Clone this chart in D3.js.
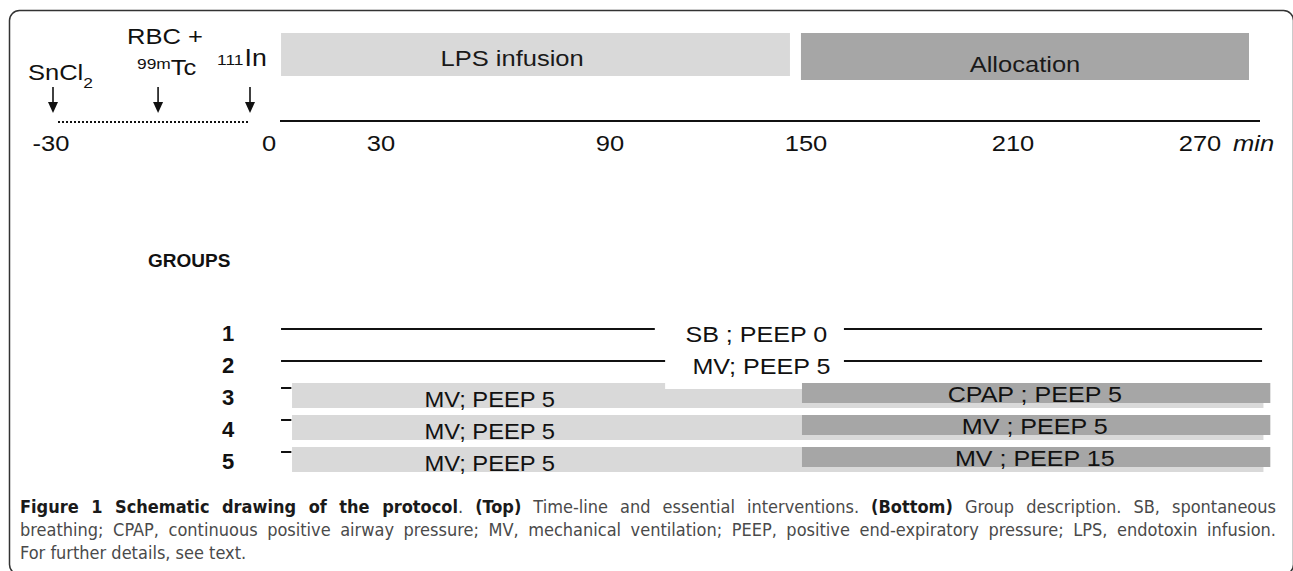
<!DOCTYPE html>
<html>
<head>
<meta charset="utf-8">
<script src="https://cdn.jsdelivr.net/npm/d3@7"></script>
<style>
  body { margin: 0; background: #fff; }
  svg text { font-family: Arial, "Liberation Sans", sans-serif; }
</style>
</head>
<body>
<div id="chart"></div>
<script>
// time-line data (minutes)
const timeTicks = [-30, 0, 30, 90, 150, 210, 270];
const eventNames = ['SnCl2', 'RBC + 99mTc', '111In'];
const eventTimes = [-30, -14, 0];
const phaseNames = ['LPS infusion', 'Allocation'];
const phaseStart = [0.3, 151.5];
const phaseEnd = [148.3, 281.8];

// groups
const groupIds = ['1', '2', '3', '4', '5'];
const preLabels = ['', '', 'MV; PEEP 5', 'MV; PEEP 5', 'MV; PEEP 5'];
const allocLabels = ['SB ; PEEP 0', 'MV; PEEP 5', 'CPAP ; PEEP 5', 'MV ; PEEP 5', 'MV ; PEEP 15'];
const gapStart = [109, 112];   // minutes where label interrupts the line (groups 1-2)
const gapEnd = [164, 164];
const preLabelAt = 61;

const captionLines = [
  [['Figure 1 Schematic drawing of the protocol', true], ['. ', false], ['(Top)', true],
   [' Time-line and essential interventions. ', false], ['(Bottom)', true],
   [' Group description. SB, spontaneous', false]],
  [['breathing; CPAP, continuous positive airway pressure; MV, mechanical ventilation; PEEP, positive end-expiratory pressure; LPS, endotoxin infusion.', false]],
  [['For further details, see text.', false]]
];

const width = 1293, height = 571;
const stretch = 1.16;  // the original figure is a bit wider than tall
const svg = d3.select('#chart').append('svg')
  .attr('width', width)
  .attr('height', height);

// text helper with a horizontal stretch
function wideText(parent, tx, ty, sx) {
  return parent.append('text')
    .attr('transform', `translate(${tx},${ty}) scale(${sx || stretch},1)`)
    .attr('fill', '#111');
}

// frame
svg.append('rect')
  .attr('x', 9.5).attr('y', 10.5)
  .attr('width', 1284).attr('height', 564)
  .attr('rx', 10)
  .attr('fill', 'none')
  .attr('stroke', '#333')
  .attr('stroke-width', 1.5);

// scales
const x = d3.scaleLinear().domain([0, 285]).range([280, 1260]);
const preX = d3.scaleLinear().domain([-30, 0]).range([53, 250]);
// schematic axis: labels are not evenly spaced
const tickX = d3.scaleLinear().domain(timeTicks).range([51, 269, 381, 610, 806, 1013, 1200]);
const rowY = d3.scalePoint().domain(groupIds).range([332, 460]);

// ---- top: time line ----
const phaseColor = ['#d9d9d9', '#a6a6a6'];
const phaseH = [43, 47];
svg.selectAll('rect.phase')
  .data(phaseNames)
  .enter().append('rect')
  .attr('class', 'phase')
  .attr('x', (d, i) => x(phaseStart[i]))
  .attr('y', 33)
  .attr('width', (d, i) => x(phaseEnd[i]) - x(phaseStart[i]))
  .attr('height', (d, i) => phaseH[i])
  .attr('fill', (d, i) => phaseColor[i]);

phaseNames.forEach((d, i) => {
  const cx = i === 0 ? x(67.5) : x((phaseStart[i] + phaseEnd[i]) / 2);
  wideText(svg, cx, i === 0 ? 66 : 72)
    .attr('text-anchor', 'middle')
    .attr('font-size', 22)
    .attr('fill', '#1a1a1a')
    .text(d);
});

// solid axis from 0, dotted before 0
svg.append('line')
  .attr('x1', x(0)).attr('x2', x(285))
  .attr('y1', 121).attr('y2', 121)
  .attr('stroke', '#111').attr('stroke-width', 2.2);

svg.append('line')
  .attr('x1', preX(-30) + 5).attr('x2', preX(0) - 2)
  .attr('y1', 122).attr('y2', 122)
  .attr('stroke', '#111').attr('stroke-width', 2)
  .attr('stroke-dasharray', '2,2');

timeTicks.forEach(d => {
  wideText(svg, tickX(d), 151)
    .attr('text-anchor', 'middle')
    .attr('font-size', 22)
    .text(d);
});

wideText(svg, tickX(270) + 33, 151)
  .attr('font-size', 22)
  .attr('font-style', 'italic')
  .text('min');

// arrows
const arrows = svg.selectAll('g.arrow')
  .data(eventTimes)
  .enter().append('g')
  .attr('class', 'arrow')
  .attr('transform', d => `translate(${preX(d)},0)`);
arrows.append('line')
  .attr('y1', 87).attr('y2', 104)
  .attr('stroke', '#111').attr('stroke-width', 1.6);
arrows.append('path')
  .attr('d', 'M-5,102L5,102L0,113Z')
  .attr('fill', '#111');

// event labels
const sn = wideText(svg, 28, 80).attr('font-size', 22);
sn.append('tspan').text('SnCl');
sn.append('tspan').attr('font-size', 15).attr('dy', 8).text('2');

wideText(svg, 127, 44).attr('font-size', 22).text('RBC +');
const tc = wideText(svg, 137, 75);
tc.append('tspan').attr('font-size', 15).attr('dy', -6).text('99m');
tc.append('tspan').attr('font-size', 22).attr('dy', 6).text('Tc');

const inn = wideText(svg, 217, 66);
inn.append('tspan').attr('font-size', 15).attr('dy', -1).text('111');
inn.append('tspan').attr('font-size', 23).attr('dx', 1).attr('dy', 1).text('In');

// ---- bottom: groups ----
svg.append('text')
  .attr('x', 148).attr('y', 267)
  .attr('font-size', 19).attr('font-weight', 'bold')
  .attr('fill', '#111')
  .text('GROUPS');

svg.selectAll('text.gid')
  .data(groupIds)
  .enter().append('text')
  .attr('class', 'gid')
  .attr('x', 228)
  .attr('y', d => rowY(d) + 9)
  .attr('text-anchor', 'middle')
  .attr('font-size', 22).attr('font-weight', 'bold')
  .attr('fill', '#111')
  .text(d => d);

const lineRows = groupIds.slice(0, 2);
const barRows = groupIds.slice(2);

svg.selectAll('line.grp')
  .data(lineRows)
  .enter().append('line')
  .attr('class', 'grp')
  .attr('x1', x(0.3)).attr('x2', x(285.6))
  .attr('y1', d => rowY(d) - 3).attr('y2', d => rowY(d) - 3)
  .attr('stroke', '#111').attr('stroke-width', 2);

svg.selectAll('rect.light')
  .data(barRows)
  .enter().append('rect')
  .attr('class', 'light')
  .attr('x', x(3.5))
  .attr('y', d => rowY(d) - 13)
  .attr('width', x(286) - x(3.5))
  .attr('height', 25)
  .attr('fill', '#d9d9d9');

svg.selectAll('rect.gap')
  .data(lineRows)
  .enter().append('rect')
  .attr('class', 'gap')
  .attr('x', (d, i) => x(gapStart[i]))
  .attr('y', d => rowY(d) - 12)
  .attr('width', (d, i) => x(gapEnd[i]) - x(gapStart[i]))
  .attr('height', 37)
  .attr('fill', '#fff');

svg.selectAll('rect.dark')
  .data(barRows)
  .enter().append('rect')
  .attr('class', 'dark')
  .attr('x', x(151.8))
  .attr('y', d => rowY(d) - 13)
  .attr('width', x(288) - x(151.8))
  .attr('height', 20)
  .attr('fill', '#a6a6a6');

svg.selectAll('line.dash')
  .data(barRows)
  .enter().append('line')
  .attr('class', 'dash')
  .attr('x1', x(0.3)).attr('x2', x(3.3))
  .attr('y1', d => rowY(d) - 8).attr('y2', d => rowY(d) - 8)
  .attr('stroke', '#111').attr('stroke-width', 2);

groupIds.forEach((g, i) => {
  if (preLabels[i]) {
    wideText(svg, x(preLabelAt), rowY(g) + 11, 1.08)
      .attr('text-anchor', 'middle')
      .attr('font-size', 22)
      .text(preLabels[i]);
  }
  const ax = i < 2 ? x((gapStart[i] + gapEnd[i]) / 2 + 2) : x(219.5);
  wideText(svg, ax, rowY(g) + (i < 2 ? 10 : 6), 1.14)
    .attr('text-anchor', 'middle')
    .attr('font-size', 22)
    .text(allocLabels[i]);
});

// ---- caption ----
const capLeft = 20, capRight = 1276;
const capFont = '"DejaVu Sans Condensed", "Liberation Sans Narrow", "Open Sans", sans-serif';
captionLines.forEach((parts, li) => {
  const t = svg.append('text')
    .attr('x', capLeft)
    .attr('y', 513 + li * 23)
    .attr('font-size', 18)
    .style('font-family', capFont)
    .attr('fill', '#4a4a4a');
  parts.forEach(p => {
    t.append('tspan')
      .attr('font-weight', p[1] ? 'bold' : 'normal')
      .attr('fill', p[1] ? '#1a1a1a' : '#4a4a4a')
      .text(p[0]);
  });
  if (li < 2) {
    const len = t.node().getComputedTextLength();
    const spaces = parts.map(p => p[0]).join('').split(' ').length - 1;
    t.attr('word-spacing', (capRight - capLeft - len) / spaces);
  }
});
</script>
</body>
</html>
